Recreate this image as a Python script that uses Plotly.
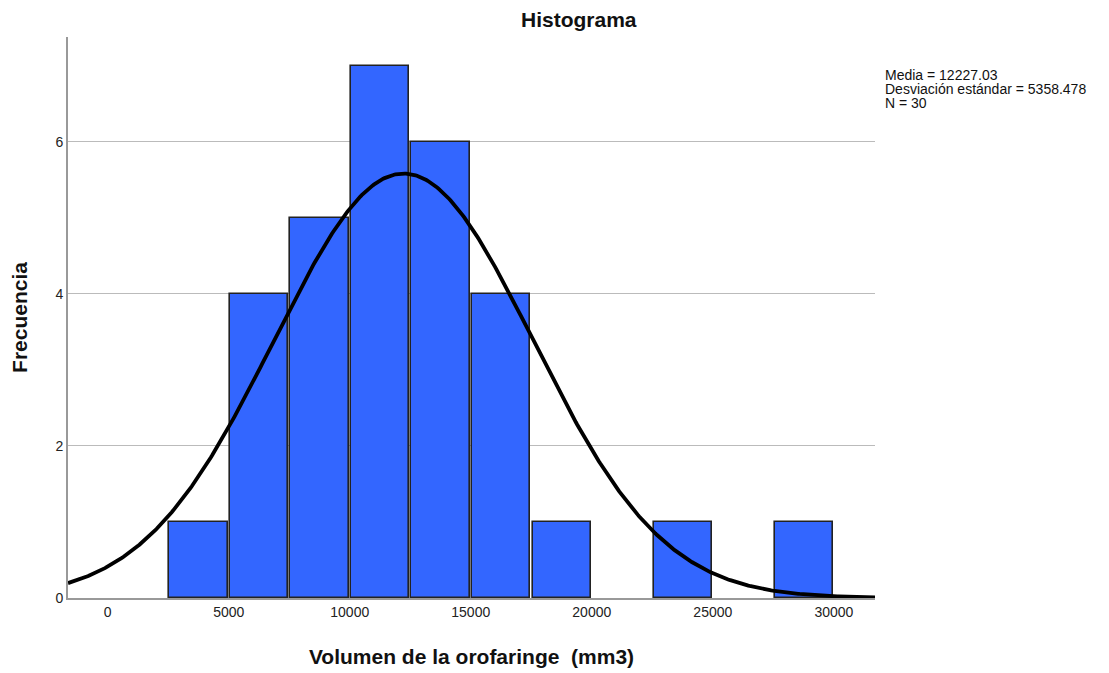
import numpy as np
import plotly.graph_objects as go

bin_starts = [2500, 5000, 7500, 10000, 12500, 15000, 17500, 20000, 22500, 25000, 27500]
counts = [1, 4, 5, 7, 6, 4, 1, 0, 1, 0, 1]
bin_width = 2500
mean = 12227.03
std = 5358.478
n = 30
x_ticks = [0, 5000, 10000, 15000, 20000, 25000, 30000]
y_ticks = [0, 2, 4, 6]
stats_lines = [f"Media = {mean}", f"Desviación estándar = {std}", f"N = {n}"]

FONT = "Liberation Sans, Arial, sans-serif"

# page has 8px body margin: compensate so the plot area sits at x 68..875, y 37..598
L, T, R, B = 60, 29, 242, 83
PW = 1109 - L - R
PH = 673 - T - B

fig = go.Figure()
fig.add_trace(go.Bar(
    x=[s + bin_width / 2 for s in bin_starts], y=counts, width=bin_width - 100,
    marker=dict(color="#3366FF",
                line=dict(color="#222222", width=[1.6 if c > 0 else 0 for c in counts])),
    showlegend=False, hoverinfo="skip"))

xc = np.linspace(-1640, 31700, 600)
yc = n * bin_width / (std * np.sqrt(2 * np.pi)) * np.exp(-0.5 * ((xc - mean) / std) ** 2)
fig.add_trace(go.Scatter(x=xc, y=yc, mode="lines",
                         line=dict(color="black", width=3.8), showlegend=False, hoverinfo="skip"))

fig.update_layout(
    width=1109, height=673, plot_bgcolor="white", paper_bgcolor="white",
    margin=dict(l=L, r=R, t=T, b=B),
    font=dict(family=FONT, color="#222"),
    xaxis=dict(range=[-1640, 31700], tickvals=x_ticks, ticktext=[str(v) for v in x_ticks],
               showgrid=False, zeroline=False, showline=True, linecolor="#999", linewidth=2,
               ticks="", tickfont=dict(size=14, color="#222"),
               title=dict(text="<b>Volumen de la orofaringe  (mm3)</b>",
                          font=dict(size=21, family=FONT, color="#111"), standoff=31)),
    yaxis=dict(range=[0, 7.38], tickvals=y_ticks, ticktext=[str(v) for v in y_ticks],
               showgrid=True, gridcolor="#bbbbbb", gridwidth=1, zeroline=False,
               showline=True, linecolor="#999", linewidth=2, ticks="",
               tickfont=dict(size=14, color="#222"),
               title=dict(text="<b>Frecuencia</b>", font=dict(size=21, family=FONT, color="#111"), standoff=22)),
    bargap=0,
)

fig.add_annotation(text="<b>Histograma</b>", xref="paper", yref="paper",
                   x=(579 - 8 - L) / PW, y=1, yshift=(37 - 19), yanchor="middle",
                   showarrow=False, font=dict(size=21, family=FONT, color="#111"))
for i, line in enumerate(stats_lines):
    fig.add_annotation(text=line, xref="paper", yref="paper",
                       x=(883 - 8 - L) / PW, y=1, yshift=(37 - 75) - 14 * i,
                       xanchor="left", yanchor="middle", align="left", showarrow=False,
                       font=dict(size=14, family=FONT, color="#111"))

fig.write_html("out.html")
